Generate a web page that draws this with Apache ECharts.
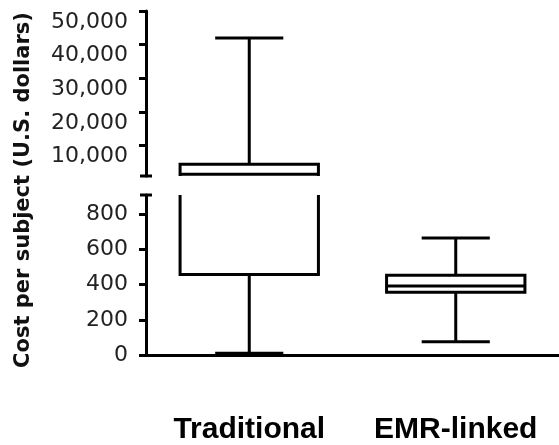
<!DOCTYPE html>
<html>
<head>
<meta charset="utf-8">
<script src="https://cdn.jsdelivr.net/npm/echarts@6/dist/echarts.min.js"></script>
<style>
  html, body { margin: 0; padding: 0; background: #fff; }
  #chart { width: 559px; height: 445px; }
</style>
</head>
<body>
<div id="chart"></div>
<script>
// box plot values
const categories = ['Traditional', 'EMR-linked']
const minValues = [10, 76]
const q1Values = [458, 357]
const medianValues = [1500, 393]
const q3Values = [4500, 453]
const maxValues = [42000, 665]

// tick labels for the two parts of the broken axis
const topTicks = [10000, 20000, 30000, 40000, 50000]
const bottomTicks = [0, 200, 400, 600, 800]

const boxData = categories.map((c, i) => [i, minValues[i], q1Values[i], medianValues[i], q3Values[i], maxValues[i]])

const chart = echarts.init(document.getElementById('chart'))

const labelStyle = {
  color: '#222',
  fontFamily: 'DejaVu Sans',
  fontSize: 22,
  margin: 18,
  formatter: v => Number(v).toLocaleString('en-US')
}

// draw one box with whiskers, clipped by the grid
function renderBox(params, api) {
  const cat = api.value(0)
  const pt = v => api.coord([cat, v])
  const cs = params.coordSys
  const bw = api.size([1, 0])[0]
  const half = bw * 0.335
  const capHalf = bw * 0.165
  const cx = pt(api.value(1))[0]
  const yMin = pt(api.value(1))[1]
  const yQ1 = pt(api.value(2))[1]
  const yMed = pt(api.value(3))[1]
  const yQ3 = pt(api.value(4))[1]
  const yMax = pt(api.value(5))[1]
  // whole box lies below this part of the axis
  if (yMax > cs.y + cs.height) return null
  const line = (x1, y1, x2, y2) => ({
    type: 'line',
    shape: { x1, y1, x2, y2 },
    style: { stroke: '#000', lineWidth: 3 }
  })
  return {
    type: 'group',
    children: [
      line(cx, yQ3, cx, yMax),
      line(cx - capHalf, yMax, cx + capHalf, yMax),
      line(cx, yQ1, cx, yMin),
      line(cx - capHalf, yMin, cx + capHalf, yMin),
      {
        type: 'rect',
        shape: { x: cx - half, y: yQ3, width: half * 2, height: yQ1 - yQ3 },
        style: { fill: '#fff', stroke: '#000', lineWidth: 3 }
      },
      line(cx - half, yMed, cx + half, yMed)
    ]
  }
}

// small cap marking where the axis is broken
function breakCap(atBottom) {
  return function(params) {
    const cs = params.coordSys
    const y = atBottom ? cs.y + cs.height : cs.y
    return {
      type: 'line',
      shape: { x1: cs.x - 6, y1: y, x2: cs.x + 6, y2: y },
      style: { stroke: '#000', lineWidth: 3 }
    }
  }
}

const option = {
  animation: false,
  backgroundColor: '#fff',
  grid: [
    { left: 146, right: 0, top: 11, height: 165 },
    { left: 146, right: 0, top: 195, height: 167 }
  ],
  xAxis: [
    { gridIndex: 0, type: 'category', data: categories, show: false },
    {
      gridIndex: 1,
      type: 'category',
      data: categories,
      axisLine: { lineStyle: { color: '#000', width: 3 } },
      axisTick: { alignWithLabel: true, length: 5, lineStyle: { color: '#000', width: 3 } },
      axisLabel: {
        interval: 0,
        color: '#000',
        fontFamily: 'Liberation Sans',
        fontWeight: 'bold',
        fontSize: 30,
        margin: 60
      }
    }
  ],
  yAxis: [
    {
      gridIndex: 0,
      type: 'value',
      min: 1000,
      max: 50000,
      splitLine: { show: false },
      axisLine: { show: true, lineStyle: { color: '#000', width: 3 } },
      axisTick: { show: true, length: 7, customValues: topTicks, lineStyle: { color: '#000', width: 3 } },
      axisLabel: Object.assign({}, labelStyle, { customValues: topTicks, verticalAlign: 'top' })
    },
    {
      gridIndex: 1,
      type: 'value',
      min: 0,
      max: 910,
      splitLine: { show: false },
      axisLine: { show: true, lineStyle: { color: '#000', width: 3 } },
      axisTick: { show: true, length: 7, customValues: bottomTicks, lineStyle: { color: '#000', width: 3 } },
      axisLabel: Object.assign({}, labelStyle, { customValues: bottomTicks })
    }
  ],
  graphic: [
    {
      type: 'text',
      x: 24,
      y: 190,
      rotation: Math.PI / 2,
      style: {
        text: 'Cost per subject (U.S. dollars)',
        fill: '#111',
        font: 'bold 21px "DejaVu Sans"',
        align: 'center',
        verticalAlign: 'middle'
      }
    }
  ],
  series: [
    {
      type: 'custom',
      xAxisIndex: 0,
      yAxisIndex: 0,
      clip: true,
      encode: { x: 0, y: [1, 2, 3, 4, 5] },
      renderItem: renderBox,
      data: boxData
    },
    {
      type: 'custom',
      xAxisIndex: 1,
      yAxisIndex: 1,
      clip: true,
      encode: { x: 0, y: [1, 2, 3, 4, 5] },
      renderItem: renderBox,
      data: boxData
    },
    {
      type: 'custom',
      xAxisIndex: 0,
      yAxisIndex: 0,
      silent: true,
      renderItem: breakCap(true),
      data: [[0, 1000]]
    },
    {
      type: 'custom',
      xAxisIndex: 1,
      yAxisIndex: 1,
      silent: true,
      renderItem: breakCap(false),
      data: [[0, 910]]
    }
  ]
}

chart.setOption(option)
</script>
</body>
</html>
